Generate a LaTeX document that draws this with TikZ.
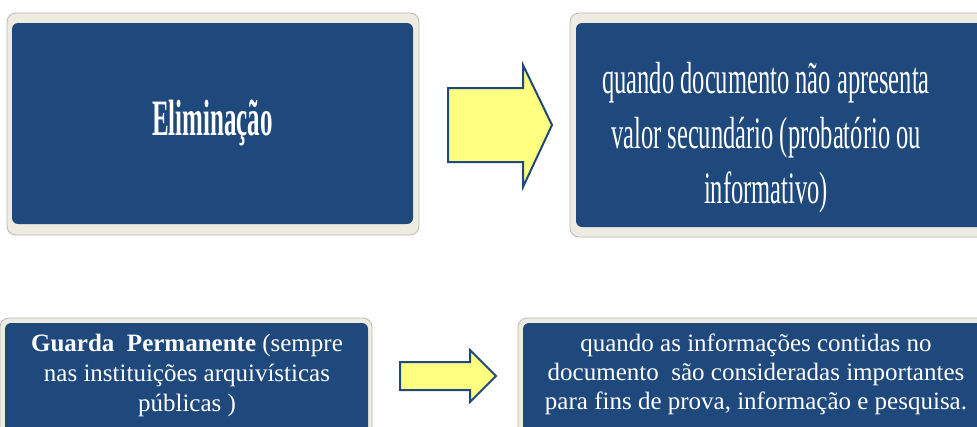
\documentclass[tikz,border=0pt]{standalone}
\usepackage{fontspec}
\setmainfont{LiberationSerif}[Extension=.ttf, UprightFont=*-Regular, BoldFont=*-Bold, ItalicFont=*-Italic, BoldItalicFont=*-BoldItalic]
\newfontfamily\condreg{LiberationSerif}[Extension=.ttf, UprightFont=*-Regular, FakeStretch=0.545]
\newfontfamily\condbold{LiberationSerif}[Extension=.ttf, UprightFont=*-Bold, FakeStretch=0.49]
\definecolor{boxblue}{HTML}{1F497D}
\definecolor{cream}{HTML}{EEECE1}
\definecolor{arrowyellow}{HTML}{FFFF80}
\tikzset{
  frame/.style={fill=cream, draw=black!28, line width=0.8pt, rounded corners=9pt, inner sep=0pt, outer sep=0pt},
  panel/.style={fill=boxblue, draw=none, rounded corners=6pt, inner sep=0pt, outer sep=0pt},
  label/.style={text=white, align=center, inner sep=0pt},
  blockarrow/.style={fill=arrowyellow, draw=boxblue, line width=2pt, line join=miter}
}
\begin{document}
\begin{tikzpicture}[x=1pt,y=-1pt]
\useasboundingbox (0,0) rectangle (977,426);
\clip (0,0) rectangle (977,426);
% top-left
\node[frame, minimum width=412pt, minimum height=222pt] (f1) at (213,124) {};
\node[panel, minimum width=401pt, minimum height=201pt] (p1) at (212.5,123.5) {};
\node[label, font={\condbold\fontsize{51}{60}\selectfont}] (t1) at (212.5,123) {Eliminação};
% top-right
\node[frame, minimum width=430pt, minimum height=224pt] (f2) at (785,125) {};
\node[panel, minimum width=419pt, minimum height=204pt] (p2) at (785.5,125) {};
\node[label, font={\condreg\fontsize{45}{55}\selectfont}] (t2) at (766,138) {quando documento não apresenta\\valor secundário (probatório ou\\informativo)};
% bottom-left
\node[frame, minimum width=372pt, minimum height=132pt] (f3) at (186,384) {};
\node[panel, minimum width=363pt, minimum height=127pt] (p3) at (186.5,386.5) {};
\node[label, font={\fontsize{25}{30}\selectfont}] (t3) at (187,375) {\textbf{Guarda\ \ Permanente} (sempre\\nas instituições arquivísticas\\públicas )};
% bottom-right
\node[frame, minimum width=492pt, minimum height=132pt] (f4) at (764,384) {};
\node[panel, minimum width=482pt, minimum height=127pt] (p4) at (764,386.5) {};
\node[label, font={\fontsize{25}{29}\selectfont}] (t4) at (756,374) {quando as informações contidas no\\documento \ são consideradas importantes\\para fins de prova, informação e pesquisa.};
% arrows
\draw[blockarrow] (448,88) -- (523,88) -- (523,65) -- (552,125) -- (523,187) -- (523,162) -- (448,162) -- cycle;
\draw[blockarrow] (400,362) -- (470,362) -- (470,350) -- (496,376) -- (470,402) -- (470,390) -- (400,390) -- cycle;
\end{tikzpicture}
\end{document}
